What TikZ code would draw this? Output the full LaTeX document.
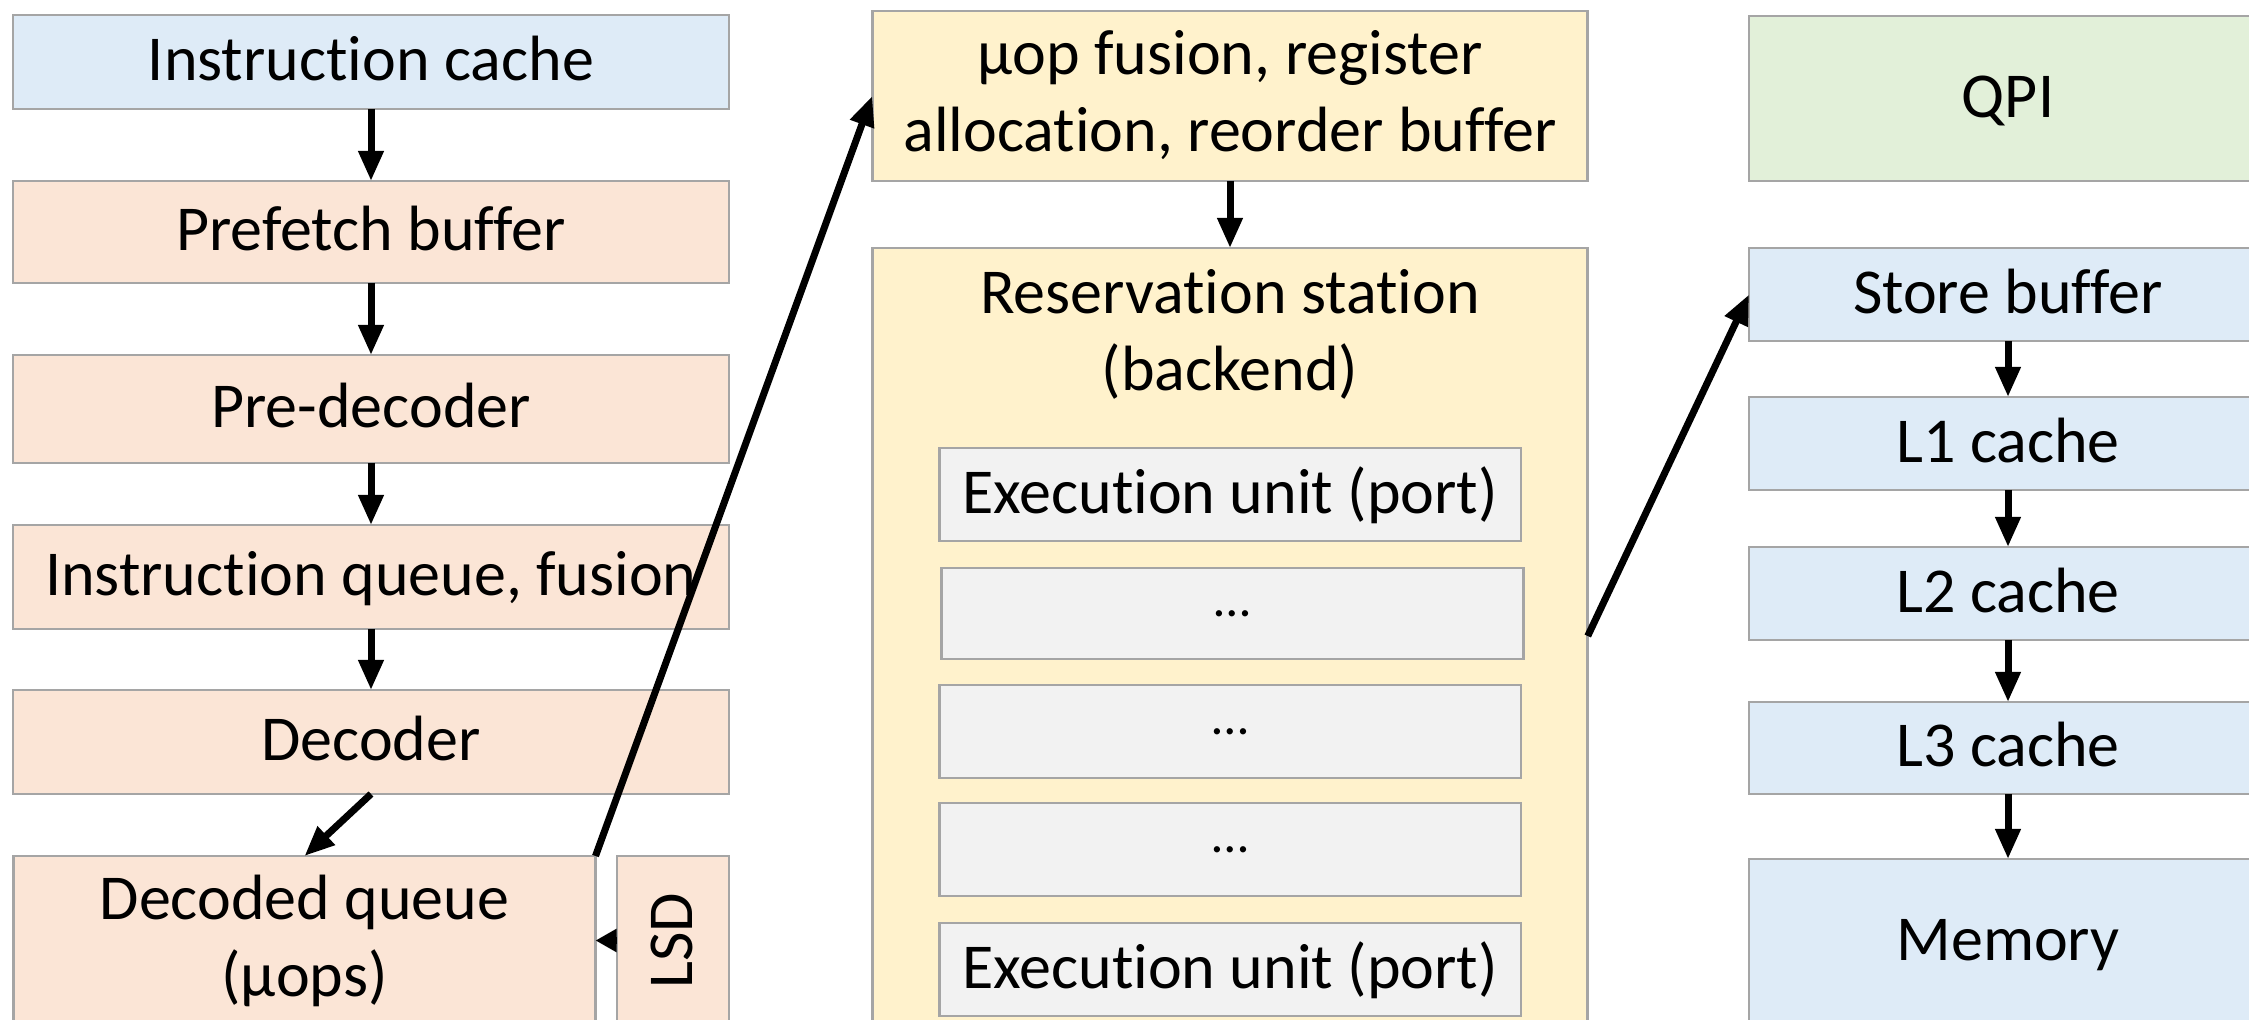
\documentclass[tikz,border=0pt]{standalone}
\usepackage{fontspec}
\setmainfont{Carlito}[Ligatures=NoCommon]
\usetikzlibrary{arrows.meta}
\definecolor{cblue}{HTML}{DEEBF7}
\definecolor{cpeach}{HTML}{FBE5D6}
\definecolor{cyellow}{HTML}{FFF2CC}
\definecolor{cgreen}{HTML}{E2F0D9}
\definecolor{cgray}{HTML}{F2F2F2}
\definecolor{cborder}{HTML}{A5A5A5}
\newcommand{\mystrut}{\rule[-5pt]{0pt}{29pt}}
\begin{document}
\begin{tikzpicture}[x=0.5pt,y=-0.5pt,
  bigfont/.style={font=\fontsize{32}{38.5}\selectfont},
  box/.style={draw=cborder,line width=1.3pt,rectangle,inner sep=0pt,outer sep=0pt,bigfont,align=center},
  txt/.style={execute at begin node=\mystrut},
  lbl/.style={rectangle,inner sep=0pt,outer sep=0pt,bigfont,align=center,txt},
  lbox/.style={box,txt,minimum width=358pt},
  mbox/.style={box,fill=cyellow,minimum width=357.75pt},
  rbox/.style={box,txt,fill=cblue,minimum width=259pt},
  ebox/.style={box,fill=cgray,minimum width=290.8pt},
  dots/.style={ebox,font=\fontsize{26}{30}\selectfont},
  arr/.style={draw=black,line width=3.5pt,-{Triangle[length=15pt,width=12pt]}}]
\path[use as bounding box] (0,0) rectangle (2249,1020);
\clip (0,0) rectangle (2249,1020);
\fill[white] (0,0) rectangle (2249,1020);
% left column
\node[lbox,fill=cblue,minimum height=47pt] (ic) at (371,62) {Instruction cache};
\node[lbox,fill=cpeach,minimum height=51pt] (pf) at (371,232) {Prefetch buffer};
\node[lbox,fill=cpeach,minimum height=54pt] (pd) at (371,409) {Pre-decoder};
\node[lbox,fill=cpeach,minimum height=52pt] (iq) at (371,577) {Instruction queue, fusion};
\node[lbox,fill=cpeach,minimum height=52pt] (de) at (371,742) {Decoder};
\node[box,txt,fill=cpeach,minimum width=291pt,minimum height=84.5pt] (dq) at (304.5,940.5) {Decoded queue\\(µops)\mystrut};
\node[box,fill=cpeach,minimum width=56pt,minimum height=84.5pt] (lsd) at (673,940.5) {};
\node[lbl,rotate=90] (lsdt) at (lsd) {LSD};
% middle column
\node[mbox,txt,minimum height=85pt] (uop) at (1230,96) {µop fusion, register\\allocation, reorder buffer\mystrut};
\node[mbox,minimum height=388pt] (rs) at (1230,636) {};
\node[lbl] (rst) at (1230,334.5) {Reservation station\\(backend)\mystrut};
\node[ebox,txt,minimum height=46.5pt] (e1) at (1230,494.5) {Execution unit (port)};
\node[dots,minimum height=45.5pt] (e2) at (1232.5,613.5) {…};
\node[dots,minimum height=46.5pt] (e3) at (1230,731.5) {…};
\node[dots,minimum height=46.5pt] (e4) at (1230,849.5) {…};
\node[ebox,txt,minimum height=46.5pt] (e5) at (1230,969.5) {Execution unit (port)};
% right column
\node[rbox,fill=cgreen,minimum height=82.5pt] (qpi) at (2008,98.5) {QPI};
\node[rbox,minimum height=46.5pt] (sb) at (2008,294.5) {Store buffer};
\node[rbox,minimum height=46.5pt] (l1) at (2008,443.5) {L1 cache};
\node[rbox,minimum height=46.5pt] (l2) at (2008,593.5) {L2 cache};
\node[rbox,minimum height=46pt] (l3) at (2008,748) {L3 cache};
\node[rbox,minimum height=82.5pt] (mem) at (2008,941.5) {Memory};
% connectors
\draw[arr] (ic) -- (pf);
\draw[arr] (pf) -- (pd);
\draw[arr] (pd) -- (iq);
\draw[arr] (iq) -- (de);
\draw[arr] (de.south) -- (dq.north);
\draw[arr,-{Triangle[length=10.5pt,width=11pt]}] (lsd.west) -- (dq.east);
\draw[arr] (dq.north east) -- (uop.west);
\draw[arr] (uop) -- (rs);
\draw[arr] (rs.east) -- (sb.west);
\draw[arr] (sb) -- (l1);
\draw[arr] (l1) -- (l2);
\draw[arr] (l2) -- (l3);
\draw[arr] (l3) -- (mem);
\end{tikzpicture}
\end{document}
